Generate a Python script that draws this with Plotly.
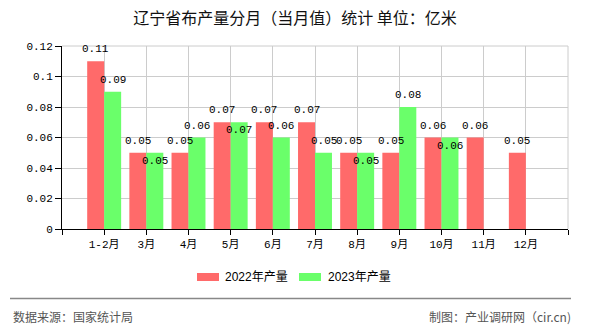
import plotly.graph_objects as go

# Monthly cloth output, Liaoning (unit: 100 million metres)
months = ["1-2月", "3月", "4月", "5月", "6月", "7月", "8月", "9月", "10月", "11月", "12月"]
output_2022 = [0.11, 0.05, 0.05, 0.07, 0.07, 0.07, 0.05, 0.05, 0.06, 0.06, 0.05]
output_2023 = [0.09, 0.05, 0.06, 0.07, 0.06, 0.05, 0.05, 0.08, 0.06, None, None]
series_names = ["2022年产量", "2023年产量"]
series_colors = ["#FF6A6A", "#6AFF6A"]

title_text = "辽宁省布产量分月（当月值）统计 单位：亿米"
source_text = "数据来源：国家统计局"
maker_text = "制图：产业调研网（cir.cn)"

W, H = 590, 330
L, R, T, B = 62, 22, 46, 101
PW, PH = W - L - R, H - T - B

def fx(px):
    return (px - L) / PW

def fy(py):
    return (H - B - py) / PH

x_pos = list(range(1, len(months) + 1))
mono = "Liberation Mono, Noto Sans CJK SC, monospace"
cjk = "Noto Sans CJK SC, sans-serif"

fig = go.Figure()
for name, vals, col in zip(series_names, [output_2022, output_2023], series_colors):
    fig.add_trace(go.Bar(x=x_pos, y=vals, name=name, marker=dict(color=col, line=dict(width=0)),
                         showlegend=False))

annotations = []
# value labels: red above its bar; green above, or tucked inside when equal to red
for i, (a, b) in enumerate(zip(output_2022, output_2023)):
    if a is not None:
        annotations.append(dict(x=x_pos[i], y=a, xshift=-8.5, yshift=12, text=f"{a:g}",
                                showarrow=False, yanchor="middle",
                                font=dict(family=mono, size=11, color="#000")))
    if b is not None:
        ys = -8 if (a is not None and abs(a - b) < 1e-9) else 12
        annotations.append(dict(x=x_pos[i], y=b, xshift=8.5, yshift=ys, text=f"{b:g}",
                                showarrow=False, yanchor="middle",
                                font=dict(family=mono, size=11, color="#000")))

# legend
legend_items = [(197, 223), (299, 326)]
shapes = []
for (sx, tx), name, col in zip(legend_items, series_names, series_colors):
    shapes.append(dict(type="rect", xref="paper", yref="paper",
                       x0=fx(sx), x1=fx(sx + 22), y0=fy(281), y1=fy(273),
                       fillcolor=col, line=dict(width=0)))
    annotations.append(dict(xref="paper", yref="paper", x=fx(tx), y=fy(277), text=name,
                            showarrow=False, xanchor="left", yanchor="middle",
                            font=dict(family="Liberation Sans, " + cjk, size=12, color="#000")))

# frame lines on top and right of the plot area
shapes.append(dict(type="line", xref="paper", yref="paper", x0=0, x1=1, y0=1, y1=1,
                   line=dict(color="#CCCCCC", width=1)))
shapes.append(dict(type="line", xref="paper", yref="paper", x0=1, x1=1, y0=0, y1=1,
                   line=dict(color="#CCCCCC", width=1)))
# footer separator
shapes.append(dict(type="line", xref="paper", yref="paper", x0=fx(10), x1=fx(571),
                   y0=fy(298.5), y1=fy(298.5), line=dict(color="#888888", width=1.5)))

annotations.append(dict(xref="paper", yref="paper", x=fx(11), y=fy(316), text=source_text,
                        showarrow=False, xanchor="left", yanchor="middle",
                        font=dict(family=cjk, size=12, color="#555")))
annotations.append(dict(xref="paper", yref="paper", x=fx(573), y=fy(316), text=maker_text,
                        showarrow=False, xanchor="right", yanchor="middle",
                        font=dict(family=cjk, size=12, color="#555")))

fig.update_layout(
    width=W, height=H, autosize=False,
    margin=dict(l=L, r=R, t=T, b=B),
    paper_bgcolor="white", plot_bgcolor="white",
    barmode="group", bargap=0.195, bargroupgap=0,
    title=dict(text=title_text, x=0.5, xref="container", xanchor="center",
               y=1 - 18 / H, yanchor="middle",
               font=dict(family=cjk, size=16, color="#111")),
    xaxis=dict(range=[0, len(months) + 1], tickmode="array",
               tickvals=list(range(0, len(months) + 2)),
               ticktext=[""] + months + [""],
               showgrid=True, gridcolor="#CCCCCC", gridwidth=1,
               showline=True, linecolor="#000", linewidth=1,
               ticks="outside", ticklen=5, tickcolor="#000",
               zeroline=False, fixedrange=True,
               tickfont=dict(family=mono, size=11, color="#000")),
    yaxis=dict(range=[0, 0.12], tickmode="array",
               tickvals=[0, 0.02, 0.04, 0.06, 0.08, 0.1, 0.12],
               showgrid=True, gridcolor="#CCCCCC", gridwidth=1,
               showline=True, linecolor="#000", linewidth=1,
               ticks="outside", ticklen=6, tickcolor="#000",
               zeroline=False, fixedrange=True,
               tickfont=dict(family=mono, size=11, color="#000")),
    annotations=annotations,
    shapes=shapes,
)

fig.write_html("out.html")
